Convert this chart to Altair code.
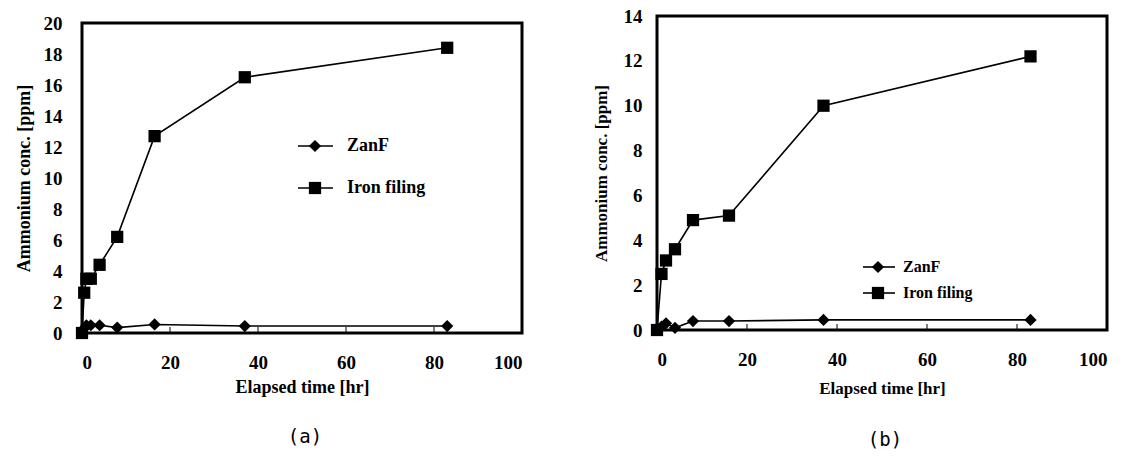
import altair as alt
import pandas as pd

# Panel (a)
a_time = [0, 0.5, 1, 2, 4, 8, 16.5, 37, 83]
a_zanf = [0, 0.3, 0.5, 0.5, 0.5, 0.35, 0.55, 0.45, 0.45]
a_iron = [0, 2.6, 3.5, 3.5, 4.4, 6.2, 12.7, 16.5, 18.4]

# Panel (b)
b_time = [0, 1, 2, 4, 8, 16, 37, 83]
b_zanf = [0, 0.15, 0.3, 0.1, 0.4, 0.4, 0.45, 0.45]
b_iron = [0, 2.5, 3.1, 3.6, 4.9, 5.1, 10.0, 12.2]

series_names = ["ZanF", "Iron filing"]
x_ticks = [0, 20, 40, 60, 80, 100]
inner_ticks = [20, 40, 60, 80]

SERIF = "Times New Roman, Liberation Serif, DejaVu Serif, serif"


def make_panel(t, zanf, iron, ymax, w, h, tick_fs, title_fs, leg, leg_fs, caption, cap_dy, pads):
    xlp, xtp, ylp, ytp = pads
    df = pd.DataFrame({
        "time": t + t,
        "conc": zanf + iron,
        "series": [series_names[0]] * len(t) + [series_names[1]] * len(t),
    })
    xs = alt.Scale(domain=[0, 100], nice=False)
    ys = alt.Scale(domain=[0, ymax], nice=False)
    xaxis = alt.Axis(values=x_ticks, ticks=False, domain=False, grid=False, labelOverlap=False,
                     labelFont=SERIF, labelFontWeight="bold", labelFontSize=tick_fs,
                     labelColor="black", labelPadding=xlp,
                     title="Elapsed time [hr]", titleFont=SERIF, titleFontWeight="bold",
                     titleFontSize=title_fs, titleColor="black", titlePadding=xtp)
    yaxis = alt.Axis(values=list(range(0, ymax + 1, 2)), ticks=False, labelOverlap=False,
                     domain=False, grid=False,
                     labelFont=SERIF, labelFontWeight="bold", labelFontSize=tick_fs,
                     labelColor="black", labelPadding=ylp,
                     title="Ammonium conc. [ppm]", titleFont=SERIF, titleFontWeight="bold",
                     titleFontSize=title_fs, titleColor="black", titlePadding=ytp)
    base = alt.Chart(df)
    line = base.mark_line(color="black", strokeWidth=1.6, clip=False).encode(
        x=alt.X("time:Q", scale=xs, axis=xaxis),
        y=alt.Y("conc:Q", scale=ys, axis=yaxis),
        detail="series:N",
    )
    pts = base.mark_point(filled=True, color="black", opacity=1, clip=False).encode(
        x=alt.X("time:Q", scale=xs, axis=xaxis),
        y=alt.Y("conc:Q", scale=ys, axis=yaxis),
        shape=alt.Shape("series:N", scale=alt.Scale(domain=series_names, range=["diamond", "square"]), legend=None),
        size=alt.Size("series:N", scale=alt.Scale(domain=series_names, range=[150, 150]), legend=None),
    )
    tdf = pd.DataFrame({"tv": inner_ticks})
    ticks = alt.Chart(tdf).mark_rule(color="black", strokeWidth=1).encode(
        x=alt.X("tv:Q", scale=xs, axis=xaxis), y=alt.value(h), y2=alt.value(h - 6)
    )
    layers = [line, pts, ticks]
    lx0, lx1, lmx, ltx, ly0, ly1 = leg
    for name, shape, ly in [(series_names[0], "diamond", ly0), (series_names[1], "square", ly1)]:
        ldf = pd.DataFrame({"label": [name]})
        lc = alt.Chart(ldf)
        layers.append(lc.mark_rule(color="black", strokeWidth=1.6).encode(
            x=alt.value(lx0), x2=alt.value(lx1), y=alt.value(ly)))
        layers.append(lc.mark_point(filled=True, color="black", opacity=1, shape=shape, size=150).encode(
            x=alt.value(lmx), y=alt.value(ly)))
        layers.append(lc.mark_text(align="left", baseline="middle", font=SERIF, fontWeight="bold",
                                   fontSize=leg_fs, color="black").encode(
            x=alt.value(ltx), y=alt.value(ly), text="label:N"))
    cdf = pd.DataFrame({"cap": [caption]})
    layers.append(alt.Chart(cdf).mark_text(align="center", baseline="middle", font="DejaVu Sans Mono",
                                           fontSize=19, color="black").encode(
        x=alt.value(w / 2 + 3), y=alt.value(h + cap_dy), text="cap:N"))
    return alt.layer(*layers).properties(width=w, height=h)


pa = make_panel(a_time, a_zanf, a_iron, 20, 440, 310, 19, 18,
                (216, 251, 233, 265, 123, 165), 18, "(a)", 104, (20, 6, 20, 10))
pb = make_panel(b_time, b_zanf, b_iron, 14, 450, 314, 19, 17,
                (206, 238, 221, 246, 251, 277), 16, "(b)", 110, (20, 11, 15, 13))

spacer = alt.Chart(pd.DataFrame({"s": [""]})).mark_text().encode(
    x=alt.value(0), y=alt.value(0), text="s:N"
).properties(width=440, height=7, view=alt.ViewBackground(stroke="white", strokeWidth=0))

left = alt.vconcat(spacer, pa, spacing=0, bounds="flush")

chart = alt.hconcat(left, pb, spacing=66).properties(
    padding={"left": 13, "top": 5, "right": 5, "bottom": 5}
).configure(background="white").configure_view(stroke="black", strokeWidth=3)

chart.save("out.html", embed_options={"renderer": "svg", "actions": False})
